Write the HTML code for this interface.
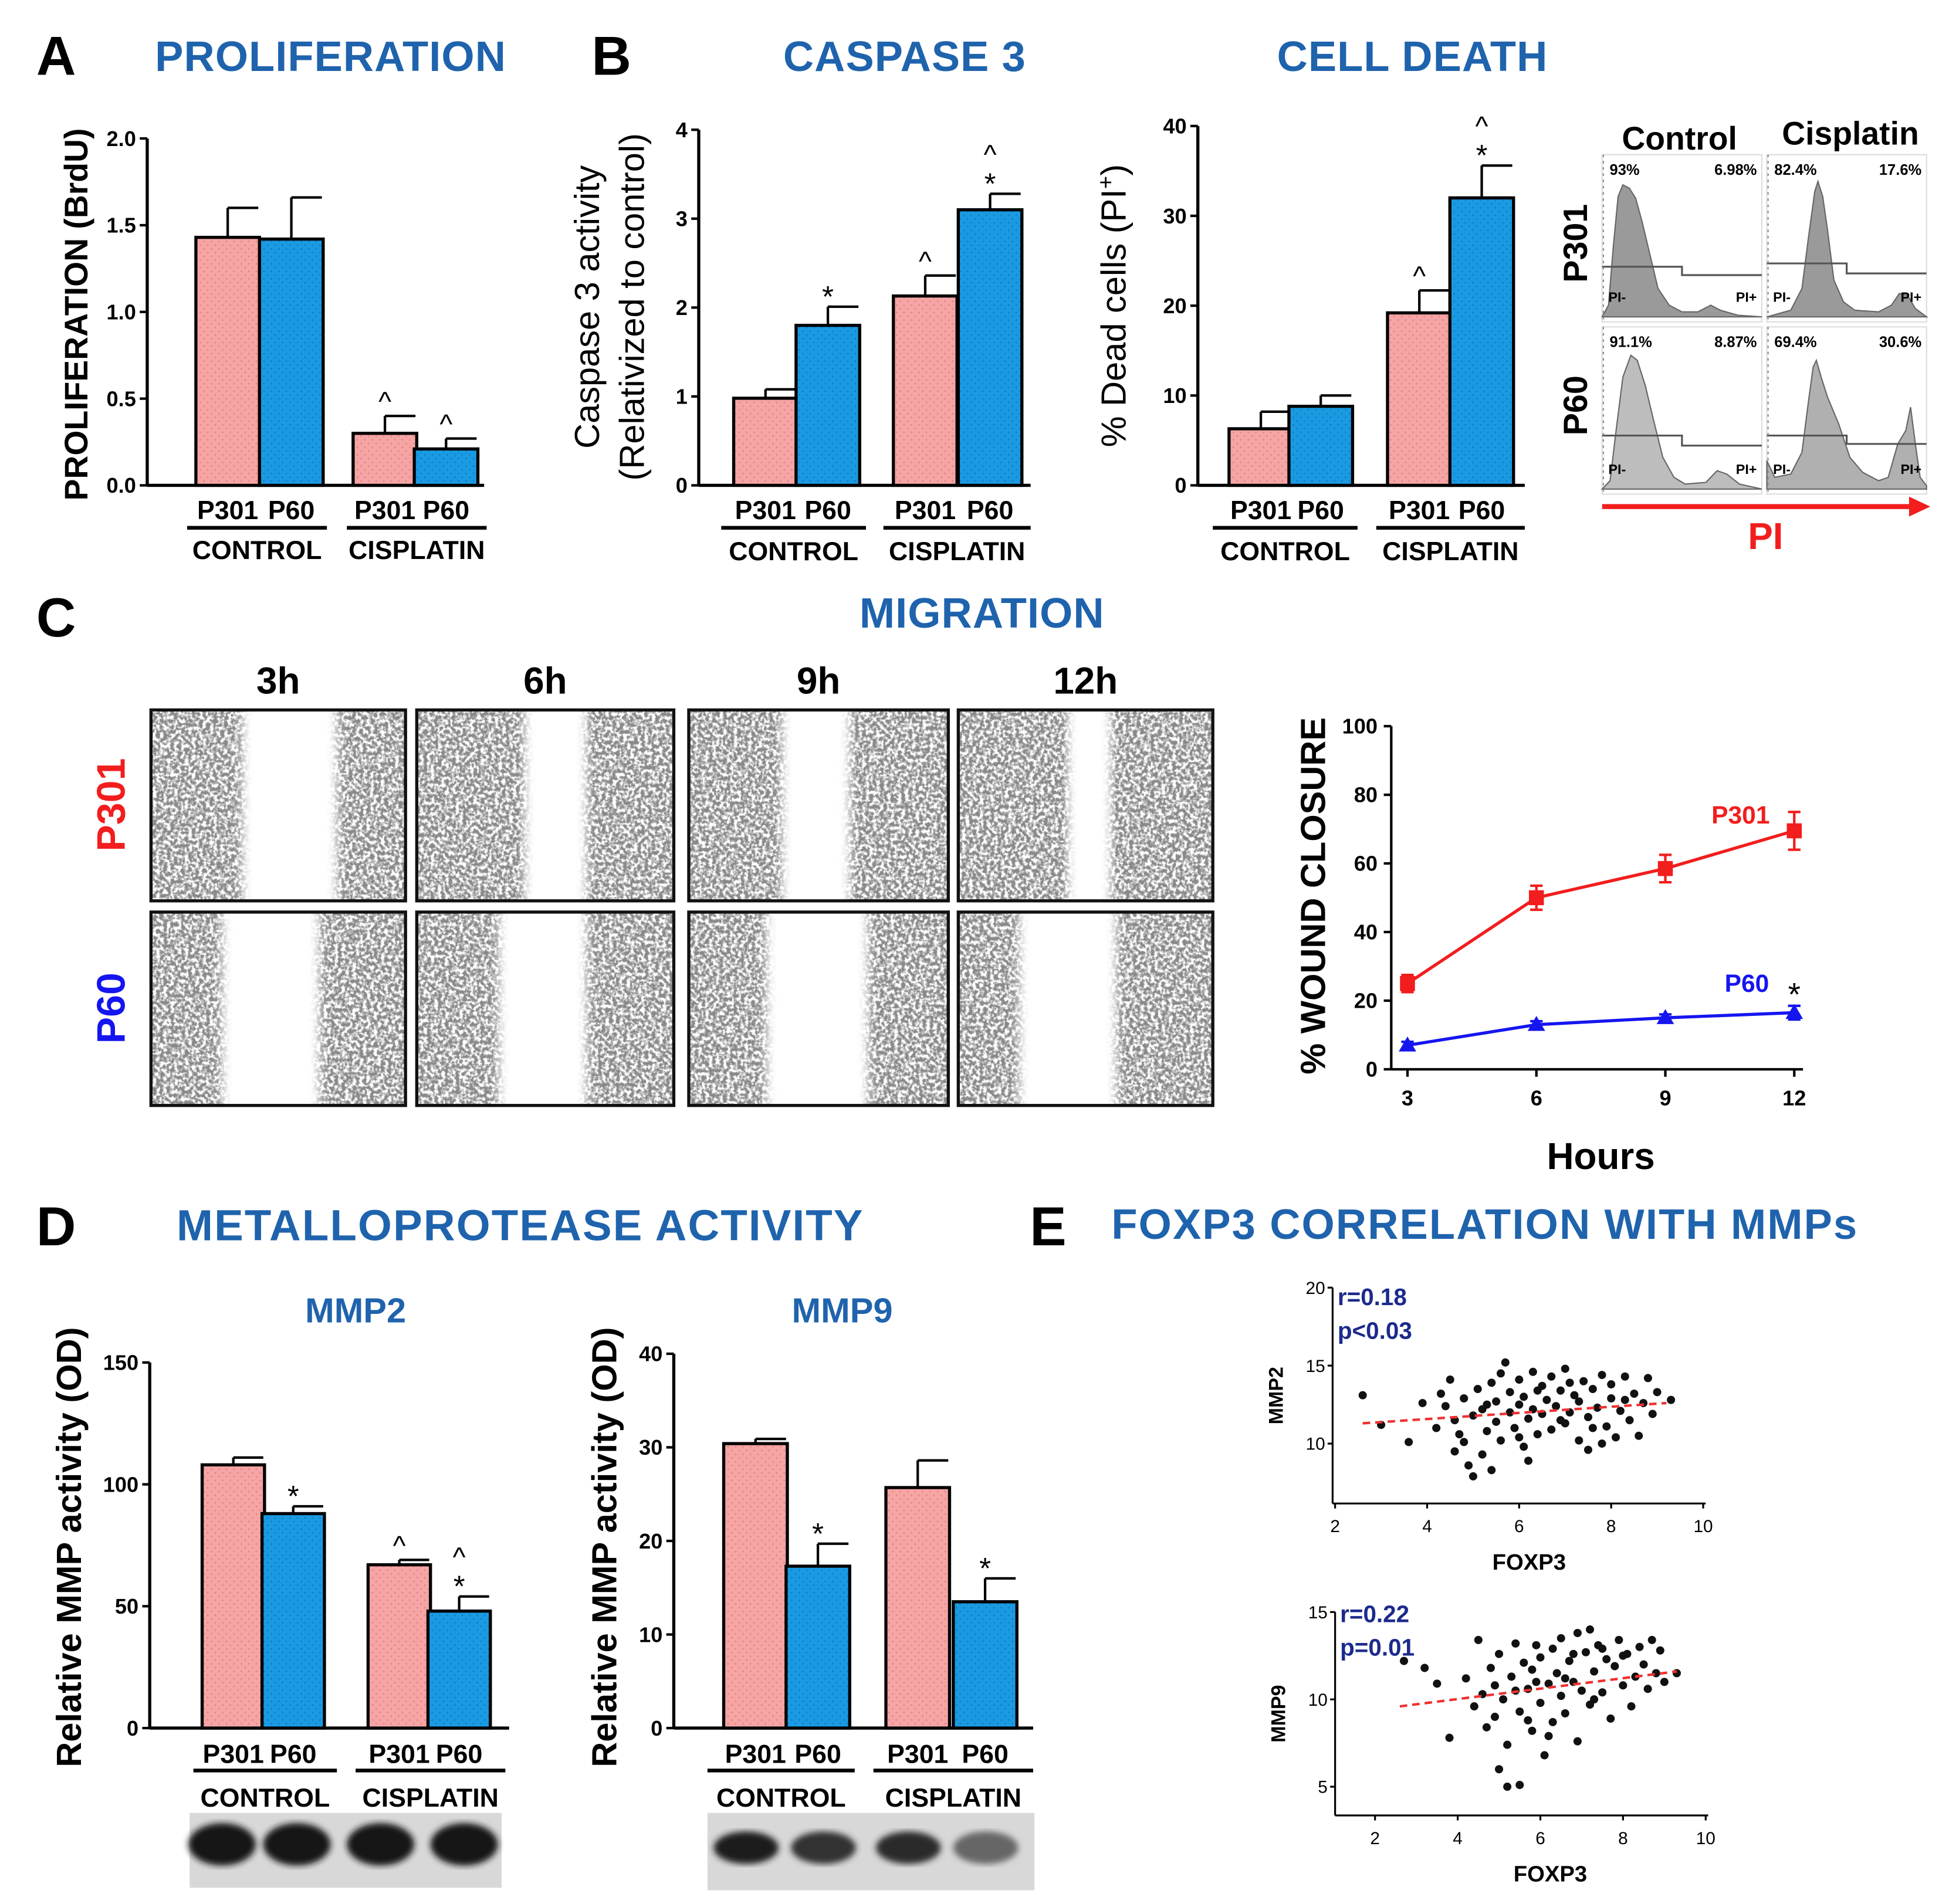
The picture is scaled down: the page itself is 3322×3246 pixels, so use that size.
<!DOCTYPE html>
<html><head><meta charset="utf-8"><style>
html,body{margin:0;padding:0;background:#fff}
svg{display:block}
text{font-family:"Liberation Sans",Arial,sans-serif}
</style></head><body>
<svg id="fig" width="3322" height="3246" viewBox="0 0 1562 1526" preserveAspectRatio="none" xmlns="http://www.w3.org/2000/svg">
<defs>
<pattern id="dotPink" width="6" height="6" patternUnits="userSpaceOnUse"><rect width="6" height="6" fill="#f6a4a4"/><circle cx="1.5" cy="1.5" r="0.6" fill="#d87f7f"/><circle cx="4.5" cy="4.5" r="0.6" fill="#d87f7f"/></pattern>
<pattern id="dotBlue" width="6" height="6" patternUnits="userSpaceOnUse"><rect width="6" height="6" fill="#1a9ae2"/><circle cx="1.5" cy="1.5" r="0.6" fill="#1176b8"/><circle cx="4.5" cy="4.5" r="0.6" fill="#1176b8"/></pattern>
<filter id="noise" x="0" y="0" width="100%" height="100%">
<feTurbulence type="fractalNoise" baseFrequency="0.35" numOctaves="2" seed="3"/>
<feColorMatrix type="matrix" values="0 0 0 0 0.25  0 0 0 0 0.25  0 0 0 0 0.25  4 0 0 0 -1.4"/>
</filter>
<filter id="blur2"><feGaussianBlur stdDeviation="4"/></filter>
<filter id="blur1"><feGaussianBlur stdDeviation="2.5"/></filter>
</defs>
<g id="root"></g>
</svg>
<script>
// ---------- DATA ----------
const groupLabels = ["CONTROL","CISPLATIN"];
const seriesLabels = ["P301","P60"];
const prolifVals = [1.43,1.42,0.30,0.21];
const prolifErr = [1.60,1.66,0.40,0.27];
const prolifTicks = [0,0.5,1.0,1.5,2.0];
const caspVals = [0.98,1.80,2.13,3.10];
const caspErr = [1.08,2.01,2.36,3.28];
const caspTicks = [0,1,2,3,4];
const deathVals = [6.3,8.8,19.2,32.0];
const deathErr = [8.2,10.0,21.7,35.6];
const deathTicks = [0,10,20,30,40];
const mmp2Vals = [108,88,67,48];
const mmp2Err = [111,91,69,54];
const mmp2Ticks = [0,50,100,150];
const mmp9Vals = [30.4,17.3,25.7,13.5];
const mmp9Err = [30.9,19.7,28.6,16.0];
const mmp9Ticks = [0,10,20,30,40];
const hours = [3,6,9,12];
const woundP301 = [25,50,58.5,69.5];
const woundP301Err = [2.5,3.5,4,5.5];
const woundP60 = [7,13,15,16.5];
const woundP60Err = [1,1,1,2];
const woundTicks = [0,20,40,60,80,100];
const mmp2Pts = [[2.6,13.1],[3.0,11.2],[3.6,10.1],[3.9,12.6],[4.2,11.0],[4.3,13.2],[4.4,12.4],[4.5,14.1],[4.6,11.5],[4.6,9.5],[4.7,10.6],[4.8,12.9],[4.9,8.6],[5.0,7.9],[5.0,11.8],[5.1,13.5],[5.2,9.3],[5.2,12.2],[5.3,10.8],[5.4,13.9],[5.5,11.4],[5.5,12.7],[5.6,14.5],[5.6,10.2],[5.7,15.2],[5.8,12.0],[5.8,13.3],[5.9,11.0],[6.0,14.1],[6.0,12.5],[6.1,9.8],[6.1,13.0],[6.2,11.6],[6.3,14.6],[6.3,12.2],[6.4,10.6],[6.5,13.7],[6.5,11.9],[6.6,12.8],[6.7,14.3],[6.7,10.9],[6.8,12.4],[6.9,13.4],[7.0,11.3],[7.0,14.8],[7.1,12.0],[7.2,13.1],[7.3,10.2],[7.3,12.7],[7.4,14.0],[7.5,11.7],[7.5,9.6],[7.6,13.5],[7.7,12.3],[7.8,14.4],[7.9,11.1],[8.0,12.9],[8.0,13.8],[8.1,10.4],[8.2,12.1],[8.3,14.3],[8.4,11.5],[8.5,13.2],[8.6,10.5],[8.7,12.6],[8.8,14.2],[8.9,11.9],[9.0,13.3],[9.3,12.8],[6.2,8.9],[5.4,8.3],[7.8,10.0],[6.9,11.5],[6.0,10.4],[4.8,10.1],[5.3,12.5],[6.4,13.4],[7.1,13.9],[7.6,11.0],[8.3,12.8]];
const mmp9Pts = [[2.7,12.2],[3.2,11.8],[3.5,10.9],[3.8,7.8],[4.2,11.2],[4.4,9.6],[4.5,13.4],[4.6,10.3],[4.7,8.4],[4.8,11.8],[4.9,9.0],[5.0,6.0],[5.0,12.6],[5.1,10.0],[5.2,7.4],[5.2,5.0],[5.3,11.3],[5.4,13.2],[5.5,9.3],[5.5,5.1],[5.6,12.1],[5.7,10.6],[5.8,8.2],[5.8,11.7],[5.9,13.1],[6.0,9.8],[6.0,12.4],[6.1,6.8],[6.2,10.9],[6.3,12.9],[6.3,8.7],[6.4,11.5],[6.5,13.5],[6.5,10.2],[6.6,9.2],[6.7,12.2],[6.8,11.0],[6.9,13.8],[6.9,7.6],[7.0,10.5],[7.1,12.7],[7.2,9.7],[7.2,14.0],[7.3,11.6],[7.4,13.1],[7.5,10.4],[7.6,12.3],[7.7,8.9],[7.8,11.9],[7.9,13.4],[8.0,10.8],[8.1,12.6],[8.2,9.6],[8.3,11.3],[8.4,13.0],[8.5,12.0],[8.6,10.6],[8.7,13.4],[8.8,11.5],[8.9,12.8],[9.0,11.0],[9.3,11.5],[5.7,8.8],[6.6,11.2],[7.5,12.9],[4.9,10.8],[6.2,7.9],[8.0,12.5],[5.4,10.5],[6.8,12.6],[7.3,10.0],[5.9,11.0]];
const fit2 = [[2.6,11.3],[9.2,12.6]];
const fit9 = [[2.6,9.6],[9.3,11.6]];

// ---------- HELPERS ----------
const NS="http://www.w3.org/2000/svg";
const root=document.getElementById('root');
function el(tag,attrs,parent,txt){const e=document.createElementNS(NS,tag);for(const k in attrs)e.setAttribute(k,attrs[k]);if(txt!==undefined)e.textContent=txt;(parent||root).appendChild(e);return e;}
function T(x,y,s,size,opt){opt=opt||{};const a={x:x,y:y,'font-size':size,'font-weight':opt.w||'bold',fill:opt.fill||'#000','text-anchor':opt.anchor||'middle'};if(opt.rot)a.transform='rotate('+opt.rot+' '+x+' '+y+')';if(opt.ls)a['letter-spacing']=opt.ls;const t=el('text',a,opt.p,s);return t;}
const BLUE="#1f63ad";

function barChart(cfg){
  const g=el('g',{});
  
  
  const y=v=>cfg.y0-(v-cfg.ticks[0])/(cfg.ticks[cfg.ticks.length-1]-cfg.ticks[0])*(cfg.y0-cfg.y1);
  const ax=el('line',{x1:cfg.ax,y1:y(cfg.ticks[cfg.ticks.length-1]),x2:cfg.ax,y2:cfg.y0,stroke:'#000','stroke-width':2.5},g);
  
  const xa=el('line',{x1:cfg.ax,y1:cfg.y0,x2:cfg.xend,y2:cfg.y0,stroke:'#000','stroke-width':2.5},g);
  
  cfg.ticks.forEach((t,i)=>{
    const l=el('line',{x1:cfg.ax-6,x2:cfg.ax,y1:y(t),y2:y(t),stroke:'#000','stroke-width':2},g);
    
    T(cfg.ax-9,y(t)+6,cfg.tickFmt?cfg.tickFmt(t):String(t),cfg.tickSize||17,{anchor:'end',p:g,name:'y-tick-label'});
  });
  cfg.vals.forEach((v,i)=>{
    const x0=cfg.bx[i],w=cfg.bw;
    const top=y(v);
    const r=el('rect',{x:x0,y:top,width:w,height:cfg.y0-top,fill:i%2?'url(#dotBlue)':'url(#dotPink)',stroke:'#000','stroke-width':2.5},g);
    
    
    const cx=x0+w/2,ey=y(cfg.err[i]);
    const e1=el('line',{x1:cx,x2:cx,y1:top,y2:ey,stroke:'#000','stroke-width':2},g);
    
    const e2=el('line',{x1:cx,x2:cx+w*0.48,y1:ey,y2:ey,stroke:'#000','stroke-width':2},g);
    
    const m=cfg.marks[i]||[];
    m.forEach((s,k)=>{T(cx,ey-8-k*20+(s==='*'?8:4),s,s==='*'?24:22,{p:g,w:'normal',name:s==='*'?'significance-star':'significance-caret'});});
  });
  cfg.vals.forEach((v,i)=>{
    T(cfg.bx[i]+cfg.bw/2,cfg.ly,seriesLabels[i%2],cfg.lsize||21,{p:g,name:'series-label'});
  });
  for(let gi=0;gi<2;gi++){
    const ul=el('line',{x1:cfg.ul[gi][0],x2:cfg.ul[gi][1],y1:cfg.uly,y2:cfg.uly,stroke:'#000','stroke-width':3},g);
    
    T((cfg.ul[gi][0]+cfg.ul[gi][1])/2,cfg.gy,groupLabels[gi],cfg.lsize||21,{p:g,name:'group-label'});
  }
  return g;
}

// ---------- PANEL A ----------
T(45,60,'A',44,{name:'panel-letter-a'});
T(265,57,'PROLIFERATION',34,{fill:BLUE,name:'proliferation-title',ls:0.5});
T(70,252,'PROLIFERATION (BrdU)',26,{rot:-90,name:'y-axis-title'});
barChart({name:'proliferation-chart',ax:118,y0:389,y1:111,xend:388,ticks:prolifTicks,tickFmt:t=>t.toFixed(1),vals:prolifVals,err:prolifErr,bx:[157,208,283,332],bw:51,marks:[[],[],['^'],['^']],ly:416,uly:423,ul:[[150,262],[278,390]],gy:448});

// ---------- PANEL B caspase ----------
T(490,60,'B',44,{name:'panel-letter-b'});
T(725,57,'CASPASE 3',34,{fill:BLUE,name:'caspase-title',ls:0.5});
T(480,246,'Caspase 3 activity',28,{rot:-90,w:'normal',name:'y-axis-title'});
T(516,246,'(Relativized to control)',28,{rot:-90,w:'normal',name:'y-axis-title-2'});
barChart({name:'caspase-chart',ax:560,y0:389,y1:104,xend:826,ticks:caspTicks,vals:caspVals,err:caspErr,bx:[588,638,716,768],bw:51,marks:[[],['*'],['^'],['*','^']],ly:416,uly:423,ul:[[578,694],[708,826]],gy:449});

// ---------- cell death ----------
T(1132,57,'CELL DEATH',34,{fill:BLUE,name:'cell-death-title',ls:0.5});
const dl=T(902,245,'% Dead cells  (PI',28,{rot:-90,w:'normal',name:'y-axis-title'});
el('tspan',{'baseline-shift':'super','font-size':18},dl,'+');
el('tspan',{},dl,')');
barChart({name:'cell-death-chart',ax:960,y0:389,y1:101,xend:1222,ticks:deathTicks,vals:deathVals,err:deathErr,bx:[985,1033,1112,1162],bw:51,marks:[[],[],['^'],['*','^']],ly:416,uly:423,ul:[[972,1088],[1103,1222]],gy:449});

// ---------- flow histograms ----------
const flowBoxes=[
 {x:1284,y:124,pl:'93%',pr:'6.98%',pts:[[0,.97],[.04,.9],[.07,.55],[.1,.25],[.13,.18],[.17,.2],[.21,.26],[.25,.4],[.3,.6],[.35,.8],[.42,.9],[.5,.94],[.6,.94],[.68,.9],[.74,.93],[.85,.96],[1,.97]],line:.67,line2:.72,fill:'#9a9a9a'},
 {x:1416,y:124,pl:'82.4%',pr:'17.6%',pts:[[0,.97],[.15,.93],[.22,.8],[.26,.5],[.3,.22],[.32,.16],[.35,.25],[.38,.45],[.42,.75],[.48,.88],[.55,.93],[.7,.94],[.78,.9],[.83,.83],[.88,.84],[.93,.92],[1,.97]],line:.65,line2:.71,fill:'#9a9a9a'},
 {x:1284,y:262,pl:'91.1%',pr:'8.87%',pts:[[0,.97],[.05,.92],[.09,.6],[.13,.3],[.18,.17],[.22,.2],[.27,.35],[.32,.55],[.38,.78],[.45,.9],[.52,.94],[.65,.93],[.72,.86],[.78,.88],[.86,.94],[1,.97]],line:.65,line2:.71,fill:'#bdbdbd'},
 {x:1416,y:262,pl:'69.4%',pr:'30.6%',pts:[[0,.8],[.05,.9],[.15,.88],[.22,.75],[.26,.45],[.29,.24],[.31,.2],[.34,.3],[.38,.42],[.45,.58],[.52,.78],[.6,.87],[.7,.92],[.76,.9],[.82,.7],[.87,.62],[.9,.48],[.93,.7],[.96,.9],[1,.95]],line:.65,line2:.7,fill:'#b0b0b0'}];
flowBoxes.forEach((b,i)=>{
  const w=128,h=134;
  const g=el('g',{});
  
  el('rect',{x:b.x,y:b.y,width:w,height:h,fill:'#fff',stroke:'#ddd','stroke-width':1},g);
  let d='M'+b.x+','+(b.y+h*.97);
  b.pts.forEach(p=>{d+=' L'+(b.x+p[0]*w)+','+(b.y+p[1]*h);});
  d+=' L'+(b.x+w)+','+(b.y+h*.97)+' Z';
  el('path',{d:d,fill:b.fill,stroke:'#666','stroke-width':1},g);
  el('path',{d:'M'+b.x+','+(b.y+b.line*h)+' H'+(b.x+w*.5)+' V'+(b.y+b.line2*h)+' H'+(b.x+w),fill:'none',stroke:'#555','stroke-width':1.5},g);
  el('line',{x1:b.x+1,x2:b.x+1,y1:b.y,y2:b.y+h,stroke:'#888','stroke-width':1,'stroke-dasharray':'2 3'},g);
  T(b.x+6,b.y+16,b.pl,12,{anchor:'start',p:g,name:'pi-negative-pct'});
  T(b.x+w-4,b.y+16,b.pr,12,{anchor:'end',p:g,name:'pi-positive-pct'});
  T(b.x+5,b.y+h*.88,'PI-',11,{anchor:'start',p:g,name:'pi-neg-label'});
  T(b.x+w-4,b.y+h*.88,'PI+',11,{anchor:'end',p:g,name:'pi-pos-label'});
});
T(1346,120,'Control',26,{name:'flow-control-header'});
T(1483,116,'Cisplatin',26,{name:'flow-cisplatin-header'});
T(1272,195,'P301',27,{rot:-90,name:'flow-row-p301'});
T(1272,325,'P60',27,{rot:-90,name:'flow-row-p60'});
const ar=el('line',{x1:1284,x2:1532,y1:406,y2:406,stroke:'#f21d1d','stroke-width':4});

const ah=el('polygon',{points:'1530,398 1547,406 1530,414',fill:'#f21d1d'});

T(1415,440,'PI',30,{fill:'#f21d1d',name:'pi-axis-label'});

// ---------- PANEL C ----------
T(45,510,'C',44,{name:'panel-letter-c'});
T(787,503,'MIGRATION',34,{fill:BLUE,name:'migration-title',ls:0.5});
const timeLbl=['3h','6h','9h','12h'];
const imgX=[[121,325],[334,540],[552,760],[768,972]];
const imgY=[[569,722],[731,886]];
const gaps=[[[.36,.73],[.42,.66],[.36,.62],[.43,.6]],[[.28,.66],[.32,.66],[.3,.69],[.24,.62]]];
timeLbl.forEach((t,i)=>T((imgX[i][0]+imgX[i][1])/2,556,t,30,{name:'time-label-'+t}));
imgY.forEach((yy,r)=>{imgX.forEach((xx,c)=>{
  const g=el('g',{});
  
  
  const w=xx[1]-xx[0],h=yy[1]-yy[0];
  const cid='clip'+r+c;
  const cp=el('clipPath',{id:cid},g);el('rect',{x:xx[0],y:yy[0],width:w,height:h},cp);
  const inner=el('g',{'clip-path':'url(#'+cid+')'},g);
  el('rect',{x:xx[0],y:yy[0],width:w,height:h,fill:'#fff'},inner);
  el('rect',{x:xx[0],y:yy[0],width:w,height:h,filter:'url(#noise)'},inner);
  const gp=gaps[r][c];
  el('rect',{x:xx[0]+gp[0]*w,y:yy[0]-20,width:(gp[1]-gp[0])*w,height:h+40,fill:'#fff',filter:'url(#blur2)'},inner);
  el('rect',{x:xx[0],y:yy[0],width:w,height:h,fill:'none',stroke:'#111','stroke-width':2.5},g);
});});
T(100,645,'P301',32,{rot:-90,fill:'#f21d1d',name:'row-label-p301'});
T(100,808,'P60',32,{rot:-90,fill:'#1515f0',name:'row-label-p60'});

// line chart
(function(){
  const g=el('g',{});
  
  const X=h=>1128+(h-3)/9*310, Y=v=>857-v/100*275;
  el('line',{x1:1115,x2:1115,y1:Y(100),y2:Y(0),stroke:'#000','stroke-width':2},g);
  el('line',{x1:1115,x2:1445,y1:Y(0),y2:Y(0),stroke:'#000','stroke-width':2},g);
  woundTicks.forEach(t=>{el('line',{x1:1109,x2:1115,y1:Y(t),y2:Y(t),stroke:'#000','stroke-width':2},g);T(1104,Y(t)+6,String(t),17,{anchor:'end',p:g,name:'y-tick-label'});});
  hours.forEach(h=>{el('line',{x1:X(h),x2:X(h),y1:Y(0),y2:Y(0)+6,stroke:'#000','stroke-width':2},g);T(X(h),886,String(h),17,{p:g,name:'x-tick-label'});});
  T(1062,718,'% WOUND CLOSURE',28,{rot:-90,p:g,name:'y-axis-title'});
  T(1283,937,'Hours',30,{p:g,name:'x-axis-title'});
  function series(vals,errs,col,shape,nm){
    const l=el('polyline',{points:vals.map((v,i)=>X(hours[i])+','+Y(v)).join(' '),fill:'none',stroke:col,'stroke-width':2.5},g);
    
    vals.forEach((v,i)=>{
      const x=X(hours[i]),y=Y(v);
      const e=el('path',{d:'M'+x+','+Y(v-errs[i])+'V'+Y(v+errs[i])+'M'+(x-5)+','+Y(v+errs[i])+'h10M'+(x-5)+','+Y(v-errs[i])+'h10',stroke:col,'stroke-width':2,fill:'none'},g);
      
      let m;
      if(shape==='sq')m=el('rect',{x:x-6,y:y-6,width:12,height:12,fill:col},g);
      else m=el('polygon',{points:(x-7)+','+(y+5)+' '+(x+7)+','+(y+5)+' '+x+','+(y-7),fill:col},g);
      
    });
  }
  series(woundP301,woundP301Err,'#f21d1d','sq','p301');
  series(woundP60,woundP60Err,'#1515f0','tri','p60');
  T(1395,660,'P301',20,{fill:'#f21d1d',p:g,name:'legend-p301'});
  T(1400,795,'P60',20,{fill:'#1515f0',p:g,name:'legend-p60'});
  T(1438,806,'*',26,{p:g,w:'normal',name:'significance-star'});
})();

// ---------- PANEL D ----------
T(45,998,'D',44,{name:'panel-letter-d'});
T(417,994,'METALLOPROTEASE ACTIVITY',35,{fill:BLUE,name:'metalloprotease-title',ls:1});
T(285,1060,'MMP2',28,{fill:BLUE,name:'mmp2-title'});
T(675,1060,'MMP9',28,{fill:BLUE,name:'mmp9-title'});
T(65,1240,'Relative MMP activity (OD)',28,{rot:-90,name:'y-axis-title'});
T(494,1240,'Relative MMP activity (OD)',28,{rot:-90,name:'y-axis-title-mmp9'});
barChart({name:'mmp2-chart',ax:120,y0:1385,y1:1092,xend:408,ticks:mmp2Ticks,vals:mmp2Vals,err:mmp2Err,bx:[162,210,295,343],bw:50,marks:[[],['*'],['^'],['*','^']],ly:1413,uly:1419,ul:[[155,270],[285,405]],gy:1448,lsize:21});
barChart({name:'mmp9-chart',ax:540,y0:1385,y1:1085,xend:828,ticks:mmp9Ticks,vals:mmp9Vals,err:mmp9Err,bx:[580,630,710,764],bw:51,marks:[[],['*'],[],['*']],ly:1413,uly:1419,ul:[[567,685],[700,828]],gy:1448,lsize:21});
// gels
[[152,1453,250,60,[178,238,305,372]],[567,1453,262,62,[598,660,728,790]]].forEach((gg,k)=>{
  const g=el('g',{});
  
  el('rect',{x:gg[0],y:gg[1],width:gg[2],height:gg[3],fill:'#d8d8d8'},g);
  gg[4].forEach((cx,i)=>{
    const dark=k?['#1a1a1a','#333','#2a2a2a','#666'][i]:'#141414';
    el('ellipse',{cx:cx,cy:gg[1]+gg[3]*(k?0.45:0.42),rx:k?26:27,ry:k?13:17,fill:dark,filter:'url(#blur1)'},g);
  });
});

// ---------- PANEL E ----------
T(840,998,'E',44,{name:'panel-letter-e'});
T(1190,993,'FOXP3 CORRELATION WITH MMPs',34,{fill:BLUE,name:'foxp3-title',ls:1});
function scatter(cfg){
  const g=el('g',{});
  
  const X=v=>cfg.x2+(v-2)/8*(cfg.x10-cfg.x2);
  const Y=v=>cfg.yA+(v-cfg.vA)/(cfg.vB-cfg.vA)*(cfg.yB-cfg.yA);
  el('line',{x1:cfg.ax,x2:cfg.ax,y1:Y(cfg.ticks[cfg.ticks.length-1]),y2:cfg.bot,stroke:'#000','stroke-width':1.5},g);
  el('line',{x1:cfg.ax,x2:cfg.x10+2,y1:cfg.bot,y2:cfg.bot,stroke:'#000','stroke-width':1.5},g);
  cfg.ticks.forEach(t=>{el('line',{x1:cfg.ax-4,x2:cfg.ax,y1:Y(t),y2:Y(t),stroke:'#000','stroke-width':1.5},g);T(cfg.ax-6,Y(t)+5,String(t),14,{anchor:'end',w:'normal',p:g,name:'y-tick-label'});});
  [2,4,6,8,10].forEach(t=>{el('line',{x1:X(t),x2:X(t),y1:cfg.bot,y2:cfg.bot+4,stroke:'#000','stroke-width':1.5},g);T(X(t),cfg.bot+23,String(t),14,{w:'normal',p:g,name:'x-tick-label'});});
  cfg.pts.forEach(p=>{const c=el('circle',{cx:X(p[0]),cy:Y(p[1]),r:3.3,fill:'#111'},g);});
  const f=el('line',{x1:X(cfg.fit[0][0]),y1:Y(cfg.fit[0][1]),x2:X(cfg.fit[1][0]),y2:Y(cfg.fit[1][1]),stroke:'#f03030','stroke-width':2,'stroke-dasharray':'6 4'},g);
  
  T((cfg.x2+cfg.x10)/2+8,cfg.bot+53,'FOXP3',18,{p:g,name:'x-axis-title'});
  T(cfg.ax-40,(Y(cfg.ticks[cfg.ticks.length-1])+cfg.bot)/2,cfg.ylab,16,{rot:-90,p:g,name:'y-axis-title'});
  T(cfg.ax+4,cfg.ry,cfg.r,19,{anchor:'start',fill:'#1c2a8c',p:g,name:'r-value'});
  T(cfg.ax+4,cfg.ry+27,cfg.pv,19,{anchor:'start',fill:'#1c2a8c',p:g,name:'p-value'});
}
scatter({name:'mmp2-scatter',ax:1068,bot:1205,x2:1070,x10:1365,yA:1032,vA:20,yB:1157,vB:10,ticks:[10,15,20],pts:mmp2Pts,fit:fit2,ylab:'MMP2',r:'r=0.18',pv:'p<0.03',ry:1046});
scatter({name:'mmp9-scatter',ax:1070,bot:1455,x2:1102,x10:1367,yA:1292,vA:15,yB:1432,vB:5,ticks:[5,10,15],pts:mmp9Pts,fit:fit9,ylab:'MMP9',r:'r=0.22',pv:'p=0.01',ry:1300});
</script>
</body></html>
